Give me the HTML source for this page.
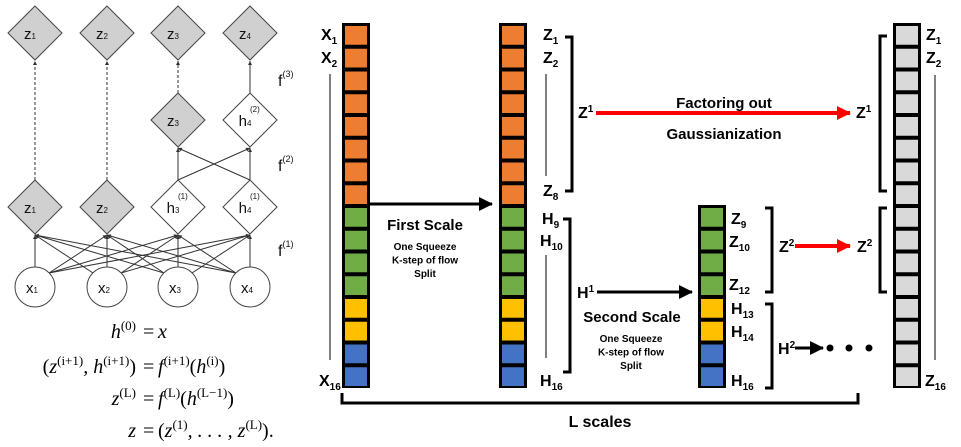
<!DOCTYPE html>
<html><head><meta charset="utf-8"><style>
html,body{margin:0;padding:0;background:#fff;}
svg{display:block;font-family:"Liberation Sans",sans-serif;}
.b{font-weight:bold;}
.m{font-family:"Liberation Serif",serif;font-style:italic;font-size:20px;}
.n{font-family:"Liberation Serif",serif;font-size:20px;}
</style></head><body>
<svg id="s" width="961" height="447" viewBox="0 0 961 447">
<defs>
<marker id="ab" markerWidth="8" markerHeight="8" refX="7" refY="4" orient="auto" markerUnits="userSpaceOnUse"><path d="M0,0 L8,4 L0,8 Z" fill="#000"/></marker>
<marker id="as" markerWidth="4" markerHeight="4" refX="4" refY="2" orient="auto" markerUnits="userSpaceOnUse"><path d="M0,0 L4,2 L0,4 Z" fill="#333"/></marker>
<marker id="ar" markerWidth="14" markerHeight="14" refX="13" refY="7" orient="auto" markerUnits="userSpaceOnUse"><path d="M0,0 L14,7 L0,14 Z" fill="#f00"/></marker>
<marker id="ak" markerWidth="14" markerHeight="14" refX="13" refY="7" orient="auto" markerUnits="userSpaceOnUse"><path d="M0,0 L14,7 L0,14 Z" fill="#000"/></marker>
</defs>
<g id="left" stroke="#333" stroke-width="1" fill="none"></g>
<g>
<text class="m" x="136" y="338" text-anchor="end">h<tspan dy="-8" font-size="13" font-style="normal">(0)</tspan></text>
<text class="n" x="143" y="338">=</text><text class="m" x="158" y="338">x</text>
<text class="m" x="136" y="373" text-anchor="end"><tspan font-style="normal">(</tspan>z<tspan dy="-8" font-size="13" font-style="normal">(i+1)</tspan><tspan dy="8">, h</tspan><tspan dy="-8" font-size="13" font-style="normal">(i+1)</tspan><tspan dy="8" font-style="normal">)</tspan></text>
<text class="n" x="143" y="373">=</text>
<text class="m" x="158" y="373">f<tspan dy="-8" font-size="13" font-style="normal">(i+1)</tspan><tspan dy="8" font-style="normal">(</tspan>h<tspan dy="-8" font-size="13" font-style="normal">(i)</tspan><tspan dy="8" font-style="normal">)</tspan></text>
<text class="m" x="136" y="405" text-anchor="end">z<tspan dy="-8" font-size="13" font-style="normal">(L)</tspan></text>
<text class="n" x="143" y="405">=</text>
<text class="m" x="158" y="405">f<tspan dy="-8" font-size="13" font-style="normal">(L)</tspan><tspan dy="8" font-style="normal">(</tspan>h<tspan dy="-8" font-size="13" font-style="normal">(L−1)</tspan><tspan dy="8" font-style="normal">)</tspan></text>
<text class="m" x="136" y="437" text-anchor="end">z</text>
<text class="n" x="143" y="437">=</text>
<text class="m" x="158" y="437"><tspan font-style="normal">(</tspan>z<tspan dy="-8" font-size="13" font-style="normal">(1)</tspan><tspan dy="8">, . . . , z</tspan><tspan dy="-8" font-size="13" font-style="normal">(L)</tspan><tspan dy="8" font-style="normal">).</tspan></text>
</g>
<g id="right"></g>
</svg>
<script>
const NS='http://www.w3.org/2000/svg';
function mk(p,t,a,txt){const e=document.createElementNS(NS,t);for(const k in a)e.setAttribute(k,a[k]);if(txt!==undefined)e.textContent=txt;p.appendChild(e);return e;}
const L=document.getElementById('left');
const xs=[35,107,178,250];
// connections
mk(L,'path',{d:'M35,60 L35,80 M107,60 L107,80 M178,60 L178,80 M178,93 L178,80',stroke:'none'});
[35,107].forEach(x=>mk(L,'line',{x1:x,y1:180,x2:x,y2:61,'stroke-dasharray':'3,2','marker-end':'url(#as)'}));
mk(L,'line',{x1:178,y1:93,x2:178,y2:61,'stroke-dasharray':'3,2','marker-end':'url(#as)'});
mk(L,'line',{x1:250,y1:93,x2:250,y2:61,'marker-end':'url(#as)'});
mk(L,'line',{x1:178,y1:180,x2:178,y2:148,'marker-end':'url(#as)'});
mk(L,'line',{x1:250,y1:180,x2:250,y2:148,'marker-end':'url(#as)'});
mk(L,'line',{x1:178,y1:180,x2:250,y2:148,'marker-end':'url(#as)'});
mk(L,'line',{x1:250,y1:180,x2:178,y2:148,'marker-end':'url(#as)'});
xs.forEach((a,i)=>xs.forEach((b,j)=>{const x1=i===j?a:a+(b>a?14:-14);mk(L,'line',{x1:x1,y1:i===j?267:273,x2:b,y2:235,'marker-end':'url(#as)'});}));
function dia(x,y,fill,lab,name){const g=mk(L,'g',{});
mk(g,'path',{d:`M${x},${y-27} L${x+27},${y} L${x},${y+27} L${x-27},${y} Z`,fill:fill,stroke:'#444'});
const t=mk(g,'text',{x:x-5,y:y+6,'font-size':'15',fill:'#111',stroke:'none','text-anchor':'middle'});t.innerHTML=lab;}
dia(35,33,'#d0d0d0','z<tspan font-size="8">1</tspan>','z1-top');dia(107,33,'#d0d0d0','z<tspan font-size="8">2</tspan>','z2-top');
dia(178,33,'#d0d0d0','z<tspan font-size="8">3</tspan>','z3-top');dia(250,33,'#d0d0d0','z<tspan font-size="8">4</tspan>','z4-top');
dia(178,120,'#d0d0d0','z<tspan font-size="8">3</tspan>','z3-mid');dia(250,120,'#fff','h<tspan font-size="8">4</tspan>','h4-2');
dia(35,207,'#d0d0d0','z<tspan font-size="8">1</tspan>','z1-low');dia(107,207,'#d0d0d0','z<tspan font-size="8">2</tspan>','z2-low');
dia(178,207,'#fff','h<tspan font-size="8">3</tspan>','h3-1');dia(250,207,'#fff','h<tspan font-size="8">4</tspan>','h4-1');
[[178,207,'(1)'],[250,207,'(1)'],[250,120,'(2)']].forEach(([x,y,s])=>mk(L,'text',{x:x,y:y-8,'font-size':'8',fill:'#111',stroke:'none'},s));
xs.forEach((x,i)=>{const g=mk(L,'g',{});
mk(g,'circle',{cx:x,cy:287,r:20,fill:'#fff',stroke:'#444'});const t=mk(g,'text',{x:x-3,y:293,'font-size':'15',fill:'#111',stroke:'none','text-anchor':'middle'});t.innerHTML='x<tspan font-size="8">'+(i+1)+'</tspan>';});
[[80,'(3)'],[165,'(2)'],[250,'(1)']].forEach(([y,s])=>{const t=mk(L,'text',{x:278,y:y+6,'font-size':'16',fill:'#111',stroke:'none'});t.innerHTML='f<tspan font-size="9" dy="-9">'+s+'</tspan>';});

const R=document.getElementById('right');
function col(x,y0,colors,name){const g=mk(R,'g',{});
const h=22.75;mk(g,'rect',{x:x,y:y0,width:28,height:h*colors.length+1,fill:'#000'});
colors.forEach((c,i)=>mk(g,'rect',{x:x+3,y:y0+3+i*h,width:22,height:h-4,fill:c}));}
const O='#ed7d31',G='#70ad47',Y='#ffc000',B='#4472c4',Gr='#d9d9d9';
const c16=[O,O,O,O,O,O,O,O,G,G,G,G,Y,Y,B,B];
col(342,23,c16,'input-column');col(499,23,c16,'first-scale-column');
col(698,205,[G,G,G,G,Y,Y,B,B],'second-scale-column');col(893,23,Array(16).fill(Gr),'output-column');
function lab(x,y,main,sub,name,fs){const t=mk(R,'text',{x:x,y:y,'font-size':fs||16,'font-weight':'bold',fill:'#000'});
t.innerHTML=main+'<tspan font-size="10" dy="4">'+sub+'</tspan>';}
function sup(x,y,main,s,name){const t=mk(R,'text',{x:x,y:y,'font-size':16,'font-weight':'bold',fill:'#000'});
t.innerHTML=main+'<tspan font-size="10" dy="-6">'+s+'</tspan>';}
lab(321,40,'X','1','x1-label');lab(321,63,'X','2','x2-label');lab(319,386,'X','16','x16-label');
mk(R,'line',{x1:330,y1:74,x2:330,y2:360,stroke:'#000'});
lab(543,40,'Z','1','z1-label');lab(543,63,'Z','2','z2-label');lab(543,196,'Z','8','z8-label');
mk(R,'line',{x1:546,y1:74,x2:546,y2:176,stroke:'#000'});
lab(542,224,'H','9','h9-label');lab(540,246,'H','10','h10-label');lab(540,386,'H','16','h16-label');
mk(R,'line',{x1:546,y1:255,x2:546,y2:358,stroke:'#000'});
function br(x,y1,y2,dir){const d=dir>0?`M${x},${y1} L${x+7},${y1} L${x+7},${y2} L${x},${y2}`:`M${x},${y1} L${x-7},${y1} L${x-7},${y2} L${x},${y2}`;mk(R,'path',{d:d,fill:'none',stroke:'#000','stroke-width':3});}
br(565,37,191,1);br(563,219,372,1);br(765,208,292,1);br(765,304,388,1);br(887,36,191,-1);br(887,208,292,-1);
sup(578,118,'Z','1','z1-group-label');
mk(R,'line',{x1:596,y1:113,x2:850,y2:113,stroke:'#f00','stroke-width':4,'marker-end':'url(#ar)'});
const t1=mk(R,'text',{x:724,y:108,'font-size':15,'font-weight':'bold','text-anchor':'middle'},'Factoring out');
const t2=mk(R,'text',{x:724,y:139,'font-size':15,'font-weight':'bold','text-anchor':'middle'},'Gaussianization');
sup(856,118,'Z','1','z1-output-label');
mk(R,'line',{x1:370,y1:204,x2:492,y2:204,stroke:'#000','stroke-width':3,'marker-end':'url(#ak)'});
mk(R,'text',{x:425,y:230,'font-size':15,'font-weight':'bold','text-anchor':'middle'},'First Scale');
['One Squeeze','K-step of flow','Split'].forEach((s,i)=>{mk(R,'text',{x:425,y:250+i*13.5,'font-size':10,'font-weight':'bold','text-anchor':'middle'},s);
mk(R,'text',{x:631,y:342+i*13.5,'font-size':10,'font-weight':'bold','text-anchor':'middle'},s);});
sup(577,298,'H','1','h1-label');
mk(R,'line',{x1:597,y1:292,x2:692,y2:292,stroke:'#000','stroke-width':3,'marker-end':'url(#ak)'});
mk(R,'text',{x:632,y:322,'font-size':15,'font-weight':'bold','text-anchor':'middle'},'Second Scale');
lab(731,224,'Z','9','z9-label');lab(729,247,'Z','10','z10-label');lab(729,290,'Z','12','z12-label');
lab(731,314,'H','13','h13-label');lab(731,337,'H','14','h14-label');lab(731,386,'H','16','h16-small-label');
sup(779,252,'Z','2','z2-group-label');
mk(R,'line',{x1:795,y1:246,x2:850,y2:246,stroke:'#f00','stroke-width':4,'marker-end':'url(#ar)'});
sup(857,252,'Z','2','z2-output-label');
sup(778,354,'H','2','h2-label');
mk(R,'line',{x1:795,y1:348,x2:823,y2:348,stroke:'#000','stroke-width':3,'marker-end':'url(#ak)'});
[830,849,869].forEach(x=>mk(R,'circle',{cx:x,cy:348,r:3.5,fill:'#000'}));
lab(926,40,'Z','1','z1-out-label');lab(926,63,'Z','2','z2-out-label');lab(925,386,'Z','16','z16-out-label');
mk(R,'line',{x1:935,y1:75,x2:935,y2:360,stroke:'#000'});
mk(R,'path',{d:'M342,393 L342,403 L858,403 L858,393',fill:'none',stroke:'#000','stroke-width':3});
mk(R,'text',{x:600,y:427,'font-size':16,'font-weight':'bold','text-anchor':'middle'},'L scales');
</script>
</body></html>
